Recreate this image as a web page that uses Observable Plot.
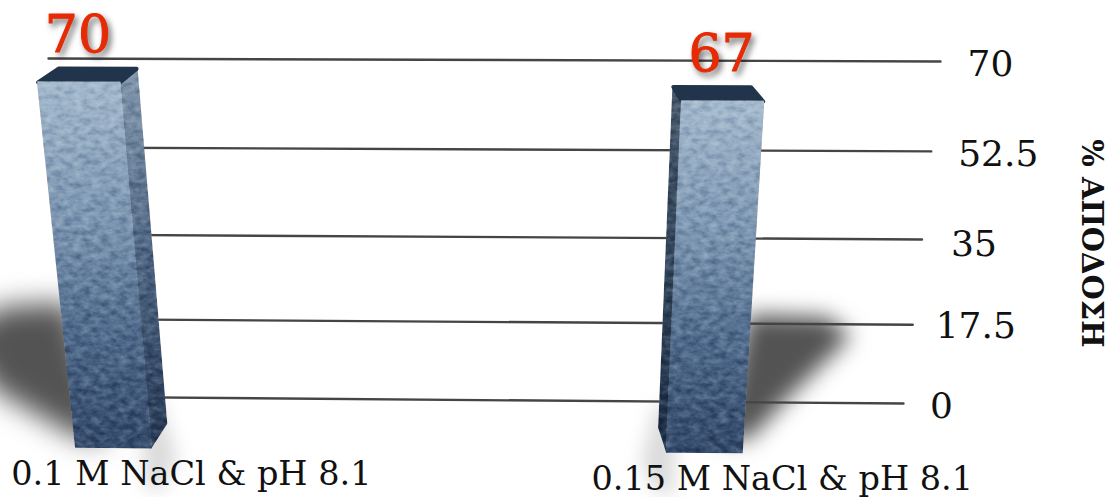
<!DOCTYPE html>
<html>
<head>
<meta charset="utf-8">
<script src="https://cdn.jsdelivr.net/npm/d3@7"></script>
<script src="https://cdn.jsdelivr.net/npm/@observablehq/plot@0.6"></script>
<style>
  html, body { margin: 0; padding: 0; background: #fff; overflow: hidden; }
  svg { display: block; }
</style>
</head>
<body>
<div id="chart"></div>
<script>
// Yield of two salt / pH conditions
const categories = ["0.1 M NaCl & pH 8.1", "0.15 M NaCl & pH 8.1"];
const yields = [70, 67];
const tickValues = [0, 17.5, 35, 52.5, 70];
const tickGaps = [38, 63, 52, 67, 50];
const tickDrops = [3, 2, 5, 3, 3];
const axisTitle = "% ΑΠΟΔΟΣΗ";

// Where each bar stands along the back wall (-1 = left end, 1 = right end)
const barCentres = [-0.89, 0.49];
const barHalfWidth = 0.0875;
const shadowSides = [-1, 1];

// Perspective planes: wall, back of a bar, front of a bar
const planes = {
  wall:  {spread: 1,     k: 1,     lift: 0},
  back:  {spread: 1,     k: 1.047, lift: -5.37},
  front: {spread: 1.047, k: 1.077, lift: -10.3}
};

// The scene narrows toward its base and the wall rises slightly to the left
const narrowing = (v) => 0.917 + 0.083 * v / 70;
const wallHeight = (v) => (v > 0 ? 70 * Math.pow(v / 70, 1.06) : v);
const tilt = (u, v) => ((1 - u) / 2) * (6.6 - 3.6 * v / 70) / 4.886;

function project(u, v, plane = "wall") {
  const p = planes[plane];
  return {
    x: u * narrowing(v) * p.spread,
    y: (wallHeight(v) + tilt(u, v)) * p.k + p.lift
  };
}

// Corners of the three visible faces of a bar
function barFaces(i) {
  const c = barCentres[i], w = barHalfWidth, v = yields[i];
  const outer = shadowSides[i] < 0 ? c + w : c - w;
  return {
    front: [[c - w, v, "front"], [c + w, v, "front"], [c + w, 0, "front"], [c - w, 0, "front"]],
    top: [[c - w, v, "front"], [c - w, v, "back"], [c + w, v, "back"], [c + w, v, "front"]],
    side: [[outer, v, "front"], [outer, v, "back"], [outer, 0, "back"], [outer, 0, "front"]]
  };
}

const corners = (pts) => pts.map(([u, v, plane]) => project(u, v, plane));

// Soft cast shadows, described relative to the bar that throws each one
const shadowDu = [
  [0.122, 0.289, 0.40, 0.33, 0.138, 0.064],
  [0.115, 0.305, 0.365, 0.23, 0.14, 0.067]
];
const shadowV = [
  [21, 20, 13, 1.6, -8.6, -8.6],
  [19.5, 19, 15, 1.6, -7.6, -7.6]
];
const shadowBlur = ["blur(14px)", "blur(11px)"];
const castShadow = (i) =>
  shadowDu[i].map((du, j) => project(barCentres[i] + shadowSides[i] * du, shadowV[i][j]));
const contactShadow = (i) =>
  [[-0.02, 10], [0.03, 10], [0.06, -2], [0.02, -8], [-0.02, -8]].map(([du, v]) =>
    project(barCentres[i] - shadowSides[i] * (barHalfWidth + du), v, "front"));

const polygon = (pts, options) =>
  Plot.line(pts, {x: "x", y: "y", curve: "linear-closed", ...options});

const defs = () => d3.create("svg:defs").html(`
  <linearGradient id="frontFill" x1="0" y1="0" x2="0" y2="1">
    <stop offset="0" stop-color="#a3b8cc"/>
    <stop offset="0.4" stop-color="#7892ae"/>
    <stop offset="0.68" stop-color="#506b8c"/>
    <stop offset="1" stop-color="#33496a"/>
  </linearGradient>
  <linearGradient id="sideFill" x1="0" y1="0" x2="0" y2="1">
    <stop offset="0" stop-color="#8297ad"/>
    <stop offset="0.5" stop-color="#4f6683"/>
    <stop offset="1" stop-color="#263a56"/>
  </linearGradient>
  <linearGradient id="sideFillDark" x1="0" y1="0" x2="0" y2="1">
    <stop offset="0" stop-color="#46586a"/>
    <stop offset="1" stop-color="#1d3049"/>
  </linearGradient>
  <filter id="grain" x="-5%" y="-2%" width="110%" height="104%" color-interpolation-filters="sRGB">
    <feTurbulence type="fractalNoise" baseFrequency="0.11 0.17" numOctaves="4" seed="7" result="noise"/>
    <feColorMatrix in="noise" type="matrix" result="gray"
      values="0.7 0 0 0 0.15  0.7 0 0 0 0.15  0.7 0 0 0 0.15  0 0 0 0 1"/>
    <feBlend in="gray" in2="SourceGraphic" mode="soft-light" result="mixed"/>
    <feComposite in="mixed" in2="SourceAlpha" operator="in"/>
  </filter>
`).node();

const serif = "'DejaVu Serif', serif";

const barMarks = yields.flatMap((_, i) => {
  const f = barFaces(i);
  const sideFill = i === 0 ? "url(#sideFill)" : "url(#sideFillDark)";
  return [
    polygon(corners(f.side), {
      fill: sideFill,
      stroke: sideFill,
      strokeWidth: 2,
      strokeLinejoin: "round",
      imageFilter: "url(#grain)"
    }),
    polygon(corners(f.top), {fill: "#21344b", stroke: "#21344b", strokeWidth: 4, strokeLinejoin: "round"}),
    polygon(corners(f.front), {
      fill: "url(#frontFill)",
      stroke: "url(#frontFill)",
      strokeWidth: 2,
      strokeLinejoin: "round",
      imageFilter: "url(#grain)"
    })
  ];
});

const chart = Plot.plot({
  width: 1110,
  height: 497,
  margin: 0,
  style: {background: "#fff", overflow: "hidden"},
  x: {domain: [-1, 1], range: [48, 940], axis: null},
  y: {domain: [0, 70], range: [403, 61], axis: null},
  marks: [
    defs,
    ...yields.flatMap((_, i) => [
      polygon(castShadow(i), {fill: "#4a4a4a", fillOpacity: 0.95, imageFilter: shadowBlur[i]}),
      polygon(contactShadow(i), {fill: "#888", fillOpacity: 0.3, imageFilter: "blur(9px)"})
    ]),
    // Horizontal value lines on the back wall
    ...tickValues.map((v) =>
      Plot.line([project(-1, v), project(1, v)], {x: "x", y: "y", stroke: "#454545", strokeWidth: 2.4})
    ),
    ...barMarks,
    // Tick labels, each its own distance beyond the end of its line
    ...tickValues.map((v, i) =>
      Plot.text([v], {
        x: (d) => project(1, d).x,
        y: (d) => project(1, d).y,
        text: (d) => String(d),
        dx: tickGaps[i],
        dy: tickDrops[i],
        fontSize: 36,
        fontFamily: serif,
        fill: "#111"
      })
    ),
    // Value labels above the bars
    Plot.text(yields, {
      x: (v, i) => project(barCentres[i], v, "front").x,
      y: (v, i) => project(barCentres[i], v, "front").y,
      text: (v) => String(v),
      dx: -1,
      dy: -47,
      fontSize: 52,
      fontFamily: serif,
      fill: "#e62a04",
      stroke: "#e62a04",
      strokeWidth: 1,
      imageFilter: "drop-shadow(3px 4px 3px rgba(0,0,0,0.55))"
    }),
    // Category labels under the bars
    Plot.text(categories, {
      x: (c, i) => project(barCentres[i], 0, "front").x,
      y: (c, i) => project(barCentres[i], 0, "front").y,
      dx: 78,
      dy: 27,
      fontSize: 33.5,
      fontFamily: serif,
      fill: "#111"
    }),
    // Axis title
    Plot.text([axisTitle], {
      x: () => project(1, 35).x,
      y: () => project(1, 35).y,
      dx: 169,
      dy: 4,
      rotate: 90,
      fontSize: 29,
      fontWeight: 700,
      fontFamily: serif,
      fill: "#111"
    })
  ]
});

document.getElementById("chart").append(chart);
</script>
</body>
</html>
